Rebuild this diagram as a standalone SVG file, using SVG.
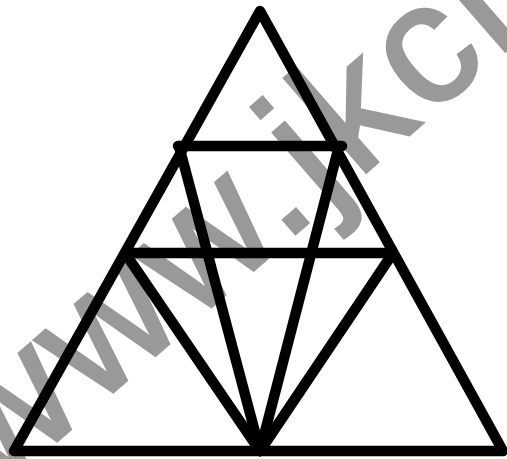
<svg xmlns="http://www.w3.org/2000/svg" width="507" height="459" viewBox="0 0 507 459">
  <style>
    .ln { fill: none; stroke: #000; stroke-width: 10.5; stroke-linecap: round; stroke-linejoin: round; }
    .wm { fill: #999; stroke: #999; stroke-width: 3; font-family: "Liberation Sans", Arial, sans-serif; font-size: 172px; letter-spacing: 6px; }
  </style>
  <rect width="507" height="459" fill="#fff"/>
  <g id="watermark">
    <text class="wm" transform="translate(-4,494) rotate(-41)">www.jkcn</text>
  </g>
  <g id="outer-triangle">
    <polygon class="ln" points="260,11 14,451 503,451"/>
  </g>
  <g id="connectors">
    <line class="ln" x1="178" y1="146" x2="342" y2="146"/>
    <line class="ln" x1="125" y1="253" x2="393" y2="253"/>
    <line class="ln" x1="179" y1="146" x2="260" y2="451"/>
    <line class="ln" x1="339" y1="146" x2="260" y2="451"/>
    <line class="ln" x1="125" y1="253" x2="260" y2="451"/>
    <line class="ln" x1="393" y1="253" x2="260" y2="451"/>
  </g>
</svg>
